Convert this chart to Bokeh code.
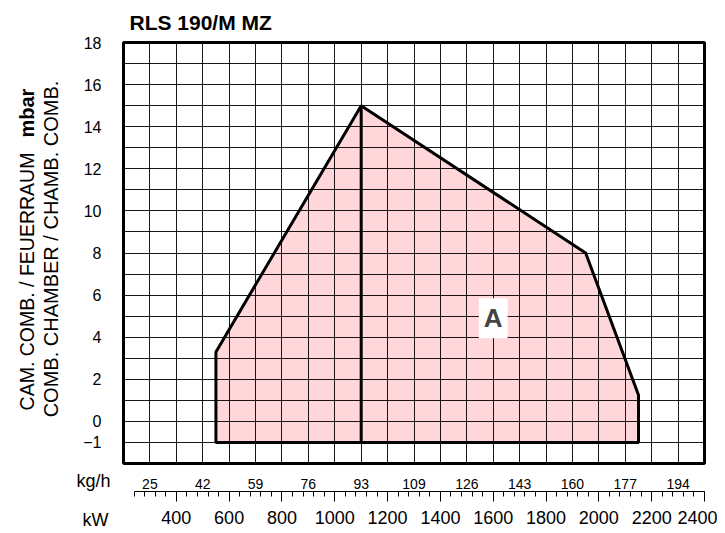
import math
from bokeh.plotting import figure
from bokeh.models import Range1d, FixedTicker, LinearAxis, Label
from bokeh.core.properties import value
from bokeh.embed import file_html
from bokeh.resources import INLINE

# ---- data ----
title_text = "RLS 190/M MZ"
ylabel_line1 = "CAM. COMB. / FEUERRAUM"
ylabel_unit = "mbar"
ylabel_line2 = "COMB. CHAMBER / CHAMB. COMB."
area_label = "A"
kgh_unit = "kg/h"
kw_unit = "kW"

# firing range A boundary (kW, mbar)
area_kw = [550, 550, 1100, 1950, 2150, 2150]
area_mbar = [-1, 3.3, 15, 8, 1.25, -1]
# vertical divider line
divider_kw = [1100, 1100]
divider_mbar = [-1, 15]

y_ticks = [-1, 0, 2, 4, 6, 8, 10, 12, 14, 16, 18]
kw_ticks = [400, 600, 800, 1000, 1200, 1400, 1600, 1800, 2000, 2200, 2400]
kw_minor = list(range(240, 2401, 40))
kgh_pos_kw = [300, 500, 700, 900, 1100, 1300, 1500, 1700, 1900, 2100, 2300]
kgh_labels = ["25", "42", "59", "76", "93", "109", "126", "143", "160", "177", "194"]

FONT = "Liberation Sans"

p = figure(width=717, height=533, output_backend="svg", toolbar_location=None,
           x_range=Range1d(200, 2400), y_range=Range1d(-2, 18),
           x_axis_location=None, min_border_left=123, min_border_right=13,
           min_border_top=42, min_border_bottom=70)

p.background_fill_color = "white"
p.border_fill_color = "white"
p.outline_line_color = "black"
p.outline_line_width = 3

# title
p.title.text = title_text
p.title.text_font = FONT
p.title.text_font_size = "21px"
p.title.text_font_style = "bold"
p.title.align = "left"
p.title.offset = 6
p.title.standoff = 17
p.title.text_color = "black"

# grid
p.xgrid.ticker = FixedTicker(ticks=list(range(200, 2401, 100)))
p.ygrid.ticker = FixedTicker(ticks=list(range(-2, 19)))
for g in (p.xgrid, p.ygrid):
    g.grid_line_color = "black"
    g.grid_line_width = 1
    g.grid_line_alpha = 0.9
    g.level = "annotation"

# y axis
ya = p.yaxis[0]
ya.ticker = FixedTicker(ticks=y_ticks)
ya.major_label_overrides = {-1: "\u22121"}
ya.axis_line_color = None
ya.major_tick_line_color = None
ya.minor_tick_line_color = None
ya.major_tick_out = 0
ya.major_tick_in = 0
ya.major_label_standoff = 22
ya.major_label_text_font = FONT
ya.major_label_text_font_size = "16px"
ya.major_label_text_color = "black"

# kg/h axis
ax1 = LinearAxis(ticker=FixedTicker(ticks=kgh_pos_kw),
                 major_label_overrides={k: v for k, v in zip(kgh_pos_kw, kgh_labels)})
ax1.axis_line_color = None
ax1.major_tick_line_color = None
ax1.minor_tick_line_color = None
ax1.major_tick_out = 0
ax1.major_tick_in = 0
ax1.major_label_standoff = 15
ax1.major_label_text_font = FONT
ax1.major_label_text_font_size = "14px"
ax1.major_label_text_color = "black"
p.add_layout(ax1, "below")

# kW axis (ruler)
ax2 = LinearAxis(ticker=FixedTicker(ticks=kw_ticks, minor_ticks=kw_minor), bounds=(240, 2400))
ax2.axis_line_color = "black"
ax2.axis_line_width = 1
ax2.major_tick_line_color = "black"
ax2.minor_tick_line_color = "black"
ax2.major_tick_in = 0
ax2.major_tick_out = 10
ax2.minor_tick_in = 0
ax2.minor_tick_out = 5
ax2.major_label_standoff = 9
ax2.major_label_text_font = FONT
ax2.major_label_text_font_size = "18px"
ax2.major_label_text_color = "black"
p.add_layout(ax2, "below")

# area
p.patch(area_kw, area_mbar, fill_color="#ffd6d9", line_color="black", line_width=3)
p.line(divider_kw, divider_mbar, line_color="black", line_width=3)

p.add_layout(Label(x=1600, y=4.9, text=area_label, text_font=FONT, text_font_size="26px",
                   text_font_style="bold", text_align="center", text_baseline="middle",
                   background_fill_color="white", padding=5))

# texts outside the frame (overlay level so they are not clipped)
def outside_text(x, y, txt, size, align, bold=False, angle=0.0):
    p.text(x=[x], y=[y], text=[txt], text_font=value(FONT), text_font_size=size,
           text_font_style="bold" if bold else "normal", text_color="black",
           text_align=align, text_baseline="middle", angle=angle, level="overlay")

outside_text(151, -2.81, kgh_unit, "18px", "right")
outside_text(143, -4.7, kw_unit, "18px", "right")

outside_text(-165, 0.52, ylabel_line1, "19.5px", "left", angle=math.pi / 2)
outside_text(-165, 15.81, ylabel_unit, "20px", "right", bold=True, angle=math.pi / 2)
outside_text(-76, 8.19, ylabel_line2, "20px", "center", angle=math.pi / 2)

open("out.html", "w").write(file_html(p, INLINE))
